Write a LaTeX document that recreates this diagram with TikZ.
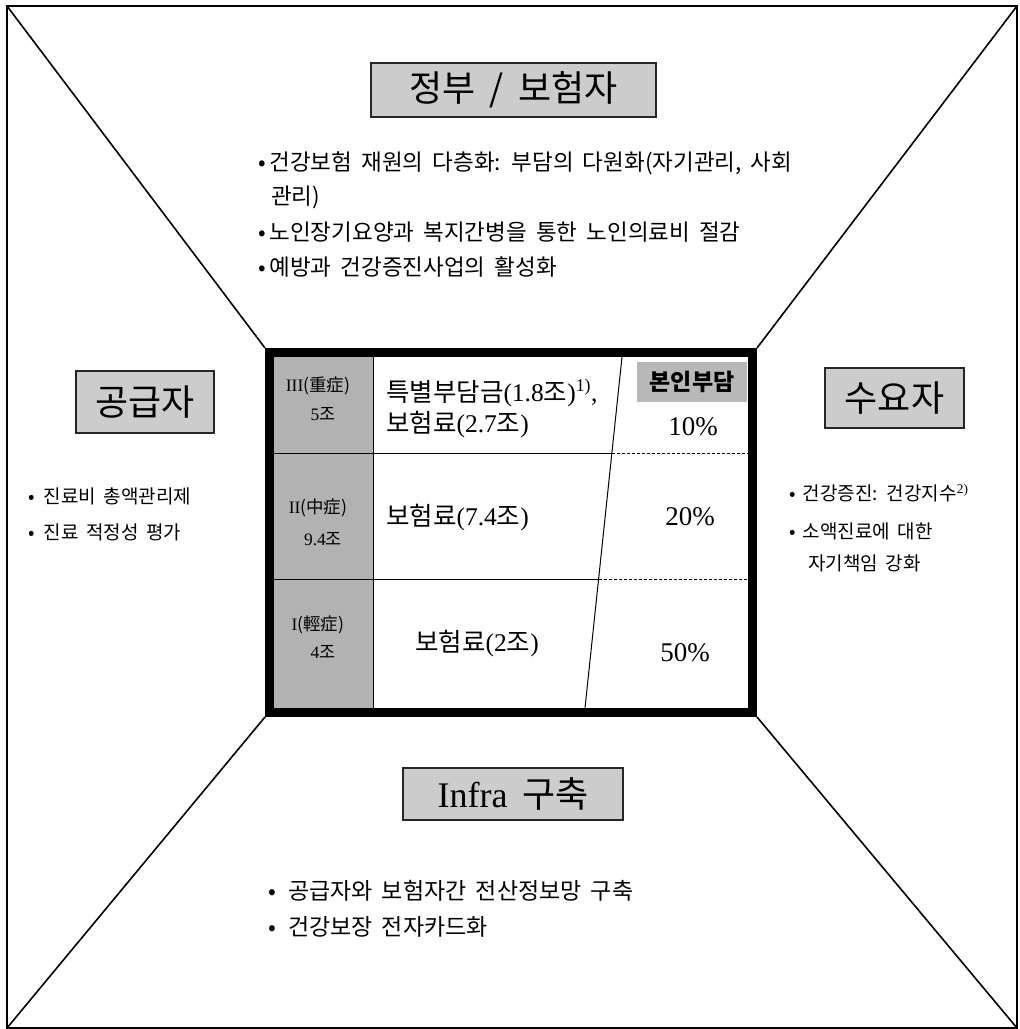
\documentclass[tikz,border=0pt]{standalone}
\usepackage{fontspec}
\setmainfont[WordSpace=1.8]{Noto Sans CJK KR}
\newfontfamily\lat{Liberation Serif}
\newcommand\Lt[1]{{\lat #1}}
\usetikzlibrary{calc}
\definecolor{colgray}{gray}{0.70}
\definecolor{boxgray}{gray}{0.80}
\definecolor{hlgray}{gray}{0.72}
\tikzset{
  titlebox/.style={draw=black!85, line width=1.6pt, fill=boxgray, inner sep=0pt, font=\fontsize{36}{40}\selectfont},
  txt/.style={inner sep=0pt, anchor=west, text height=0.75em, text depth=0.15em},
  bigtxt/.style={txt, font=\fontsize{22.5}{26}\selectfont},
  bottxt/.style={txt, font=\fontsize{23}{27}\selectfont},
  midtxt/.style={txt, font=\fontsize{19}{23}\selectfont},
  celltxt/.style={txt, font=\fontsize{25.5}{30}\selectfont},
  graytxt/.style={inner sep=0pt, text height=0.75em, text depth=0.15em, font=\fontsize{17.5}{20}\selectfont},
  pcttxt/.style={inner sep=0pt, text height=0.7em, text depth=0.1em, font=\lat\fontsize{27}{30}\selectfont},
  frame/.style={line width=1.5pt},
  diag/.style={line width=1.6pt},
}
\begin{document}
\begin{tikzpicture}[x=1pt,y=-1pt]
\useasboundingbox (0,0) rectangle (1020,1029);
% outer frame
\coordinate (FTL) at (7,6);
\coordinate (FTR) at (1017,6);
\coordinate (FBL) at (7,1028);
\coordinate (FBR) at (1017,1028);
\draw[frame] (FTL) rectangle (FBR);
% table corners
\coordinate (TTL) at (265,348);
\coordinate (TTR) at (757,348);
\coordinate (TBL) at (265,717);
\coordinate (TBR) at (757,717);
\draw[diag] (FTL) -- (TTL);
\draw[diag] (FTR) -- (TTR);
\draw[diag] (FBL) -- (TBL);
\draw[diag] (FBR) -- (TBR);
% table
\fill[white] (TTL) rectangle (TBR);
\fill[colgray] (274,357) rectangle (373,708);
\draw[line width=1pt] (373,357) -- (373,708);
\coordinate (S1) at (622,357);
\coordinate (S2) at (585,708);
\draw[line width=1pt] (S1) -- (S2);
\coordinate (R1a) at (274,453);
\coordinate (R1b) at (612,453);
\coordinate (R1c) at (748,453);
\coordinate (R2a) at (274,579);
\coordinate (R2b) at (598.6,579);
\coordinate (R2c) at (748,579);
\draw[line width=1pt] (R1a) -- (R1b);
\draw[line width=1pt, dashed, dash pattern=on 3pt off 2pt] (R1b) -- (R1c);
\draw[line width=1pt] (R2a) -- (R2b);
\draw[line width=1pt, dashed, dash pattern=on 3pt off 2pt] (R2b) -- (R2c);
\draw[line width=9pt] (269.5,352.5) rectangle (752.5,712.5);
% gray column texts
\node[graytxt] (g3a) at (318,388) {\Lt{III}(重症)};
\node[graytxt] (g3b) at (323,417) {\Lt{5}조};
\node[graytxt] (g2a) at (318,510) {\Lt{II}(中症)};
\node[graytxt] (g2b) at (323,542) {\Lt{9.4}조};
\node[graytxt] (g1a) at (318,627) {\Lt{I}(輕症)};
\node[graytxt] (g1b) at (323,655) {\Lt{4}조};
% middle column
\node[celltxt] (m3a) at (386,398) {특별부담금\Lt{(1.8}조\Lt{)\textsuperscript{1)},}};
\node[celltxt] (m3b) at (386,429) {보험료\Lt{(2.7}조\Lt{)}};
\node[celltxt] (m2) at (386,522) {보험료\Lt{(7.4}조\Lt{)}};
\node[celltxt, anchor=center] (m1) at (477,648) {보험료\Lt{(2}조\Lt{)}};
% right column
\node[fill=hlgray, minimum width=110pt, minimum height=40pt, inner sep=0pt, font=\fontsize{23}{26}\selectfont\bfseries] (hl) at (692,382) {본인부담};
\node[pcttxt] (p3) at (693,432) {10\%};
\node[pcttxt] (p2) at (690,522) {20\%};
\node[pcttxt] (p1) at (685,658) {50\%};
% title boxes
\node[titlebox, minimum width=285pt, minimum height=54pt] (gov) at (513.5,90) {정부 / 보험자};
\node[titlebox, minimum width=138pt, minimum height=62pt] (sup) at (145,402) {공급자};
\node[titlebox, minimum width=139pt, minimum height=60pt] (dem) at (894.5,398) {수요자};
\node[titlebox, minimum width=220pt, minimum height=52pt] (inf) at (513,794) {\Lt{Infra} 구축};
% top bullets
\node[bigtxt] (t1) at (258,167) {•\,건강보험 재원의 다층화: 부담의 다원화(자기관리, 사회};
\node[bigtxt] (t1b) at (271,201) {관리)};
\node[bigtxt] (t2) at (258,237) {•\,노인장기요양과 복지간병을 통한 노인의료비 절감};
\node[bigtxt] (t3) at (258,272) {•\,예방과 건강증진사업의 활성화};
% left bullets
\node[midtxt] (l1) at (28,500) {•\hspace{9pt}진료비 총액관리제};
\node[midtxt] (l2) at (28,536) {•\hspace{9pt}진료 적정성 평가};
% right bullets
\node[midtxt] (r1) at (789,497) {•\hspace{7pt}건강증진: 건강지수\textsuperscript{\Lt{2)}}};
\node[midtxt] (r2) at (789,535) {•\hspace{7pt}소액진료에 대한};
\node[midtxt] (r3) at (808,567) {자기책임 강화};
% bottom bullets
\node[bottxt] (b1) at (268,896) {•\hspace{12pt}공급자와 보험자간 전산정보망 구축};
\node[bottxt] (b2) at (268,932) {•\hspace{12pt}건강보장 전자카드화};
\end{tikzpicture}
\end{document}
